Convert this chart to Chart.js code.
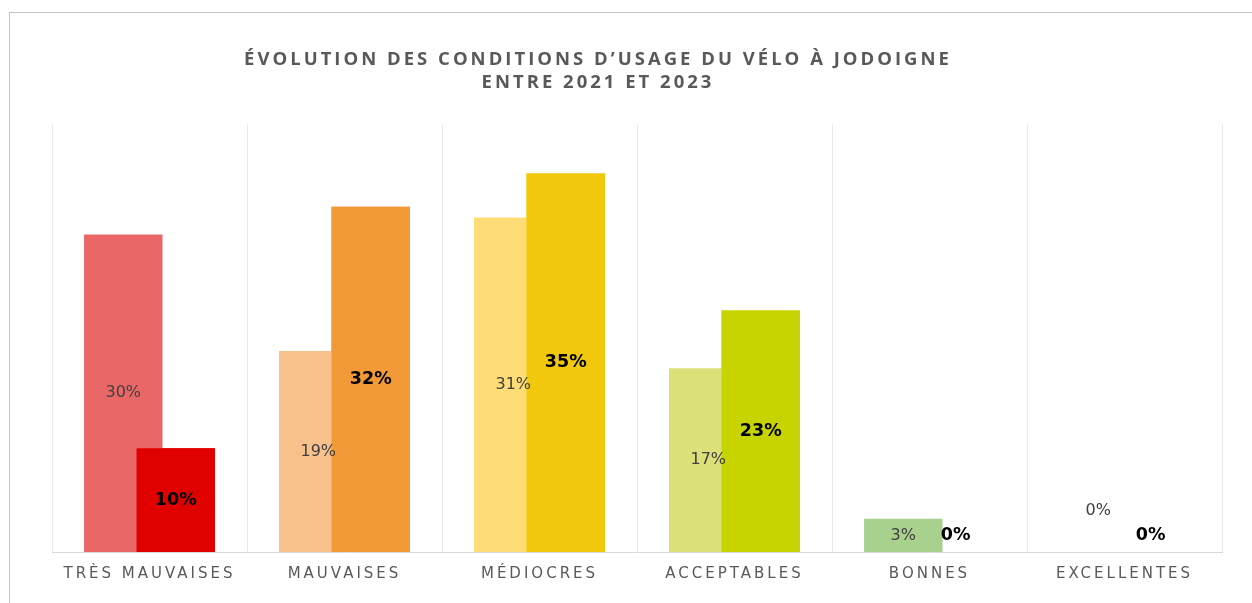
<!DOCTYPE html>
<html>
<head>
<meta charset="utf-8">
<script src="https://cdn.jsdelivr.net/npm/chart.js@4"></script>
<style>
  html, body { margin: 0; padding: 0; background: #fff; overflow: hidden; }
  #frame { position: absolute; left: 9px; top: 12px; width: 1300px; height: 700px; border: 1px solid #c4c4c4; }
  #wrap { position: absolute; left: 0; top: 0; width: 1252px; height: 603px; }
</style>
</head>
<body>
<div id="frame"></div>
<div id="wrap"><canvas id="velo"></canvas></div>
<script>
var categories = ["TRÈS MAUVAISES", "MAUVAISES", "MÉDIOCRES", "ACCEPTABLES", "BONNES", "EXCELLENTES"];
var values2021 = [29.7, 18.8, 31.3, 17.2, 3.1, 0];
var values2023 = [9.7, 32.3, 35.4, 22.6, 0, 0];
var colors2021 = ["#ea6767", "#f8c08b", "#fedd76", "#dce079", "#a9d18e", "#c5e0b4"];
var colors2023 = ["#e00000", "#f39a38", "#f2c80d", "#c8d400", "#70ad47", "#548235"];

// letter spacing for title and axis labels (canvas resets it on resize)
var spacing = {
  id: 'spacing',
  beforeLayout: function(chart) { chart.ctx.letterSpacing = '3px'; },
  beforeDraw: function(chart) { chart.ctx.letterSpacing = '3px'; }
};

// the title sits a bit left of the plot centre in the original
var titleShift = {
  id: 'titleShift',
  afterLayout: function(chart) {
    var t = chart.titleBlock;
    if (!t) return;
    t.left -= 39;
    t.right -= 39;
  }
};

// 2023 bars overlap the 2021 ones: draw them again on top
var overlap = {
  id: 'overlap',
  afterDatasetsDraw: function(chart) {
    chart.getDatasetMeta(1).controller.draw();
  }
};

// percentage labels in the middle of each bar
var barLabels = {
  id: 'barLabels',
  afterDatasetsDraw: function(chart) {
    var ctx = chart.ctx;
    ctx.save();
    ctx.letterSpacing = '0px';
    ctx.textAlign = 'center';
    ctx.textBaseline = 'middle';
    chart.data.datasets.forEach(function(ds, i) {
      chart.getDatasetMeta(i).data.forEach(function(bar, j) {
        var v = ds.data[j];
        var y = v > 0 ? (bar.y + bar.base) / 2 : bar.base - ds.labelStyle.zeroLift;
        ctx.font = ds.labelStyle.font;
        ctx.fillStyle = ds.labelStyle.color;
        ctx.fillText(Math.round(v) + '%', bar.x, y);
      });
    });
    ctx.restore();
  }
};

var ctx = document.getElementById("velo");
var chart = new Chart(ctx, {
  type: 'bar',
  data: {
    labels: categories,
    datasets: [
      {
        label: "2021", data: values2021,
        backgroundColor: colors2021,
        labelStyle: { font: "16px 'DejaVu Sans'", color: "#404040", zeroLift: 41 }
      },
      {
        label: "2023", data: values2023,
        backgroundColor: colors2023,
        labelStyle: { font: "bold 17.5px 'DejaVu Sans'", color: "#000000", zeroLift: 17 }
      }
    ]
  },
  options: {
    responsive: true,
    maintainAspectRatio: false,
    animation: false,
    categoryPercentage: 0.538,
    barPercentage: 1.495,
    layout: { padding: { left: 52, right: 30, top: 0, bottom: 7 } },
    plugins: {
      legend: { display: false },
      tooltip: { enabled: false },
      title: {
        display: true,
        text: ["ÉVOLUTION DES CONDITIONS D’USAGE DU VÉLO À JODOIGNE", "ENTRE 2021 ET 2023"],
        color: "#595959",
        font: { family: "'Open Sans'", size: 18.5, weight: 'bold', lineHeight: 1.2 },
        padding: { top: 49, bottom: 31 }
      }
    },
    scales: {
      x: {
        offset: true,
        grid: { color: "#e8e8e8", drawTicks: false, offset: true },
        border: { color: "#d9d9d9" },
        ticks: {
          color: "#595959",
          padding: 13,
          font: { family: "'DejaVu Sans'", size: 15 }
        }
      },
      y: {
        display: false,
        min: 0,
        max: 40
      }
    }
  },
  plugins: [spacing, titleShift, overlap, barLabels]
});
</script>
</body>
</html>
